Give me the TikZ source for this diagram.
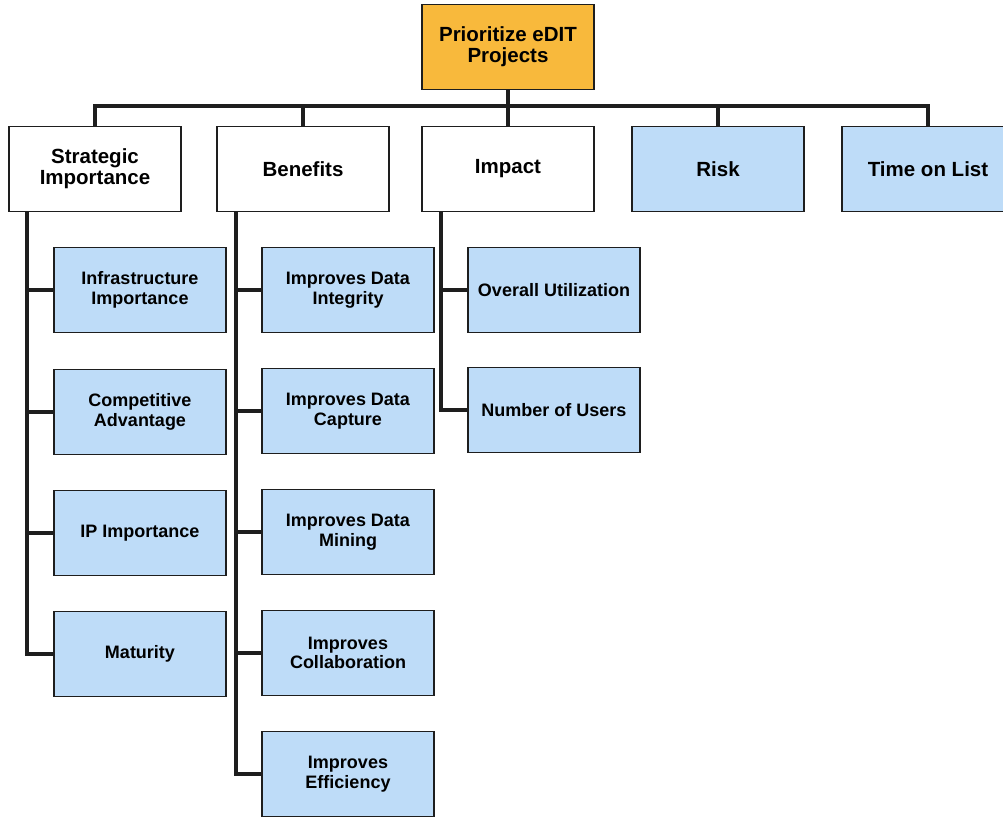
\documentclass[tikz,border=0pt]{standalone}
\usepackage{fontspec}
\setmainfont{Liberation Sans}
\usepackage{xcolor}
\usepackage{tikz}
\usetikzlibrary{calc}
\definecolor{edOrange}{HTML}{F8B93C}
\definecolor{edBlue}{HTML}{BEDCF8}
\definecolor{edLine}{HTML}{1E1E1E}

\tikzset{
  box/.style={draw=edLine, line width=1.8pt, minimum width=172pt, minimum height=85pt,
    align=center, inner sep=2pt, font=\bfseries\fontsize{20.5}{21}\selectfont},
  topbox/.style={box, fill=edOrange},
  catbox/.style={box, fill=white},
  catblue/.style={box, fill=edBlue},
  leaf/.style={box, fill=edBlue, font=\bfseries\fontsize{18}{19.5}\selectfont},
  conn/.style={draw=edLine, line width=4.5pt},
}

\begin{document}
\begin{tikzpicture}[x=1pt, y=-1pt]
                \useasboundingbox (0,0) rectangle (1003,816);
                \node[topbox] (top) at (508,47) {Prioritize eDIT\\Projects};
                
                \node[catbox] (strat) at (95,169) {Strategic\\Importance};
                \node[catbox] (benef) at (303,169) {Benefits};
                \node[catbox] (impact) at (508,169) {Impact};
                \node[catblue] (risk) at (718,169) {Risk};
                \node[catblue] (time) at (928,169) {Time on List};
                
                \node[leaf] (infra) at (140,290) {Infrastructure\\Importance};
                \node[leaf] (compet) at (140,412) {Competitive\\Advantage};
                \node[leaf] (ip) at (140,533) {IP Importance};
                \node[leaf] (matur) at (140,654) {Maturity};
                
                \node[leaf] (integ) at (348,290) {Improves Data\\Integrity};
                \node[leaf] (capt) at (348,411) {Improves Data\\Capture};
                \node[leaf] (mining) at (348,532) {Improves Data\\Mining};
                \node[leaf] (collab) at (348,653) {Improves\\Collaboration};
                \node[leaf] (effic) at (348,774) {Improves\\Efficiency};
                
                \node[leaf] (util) at (554,290) {Overall Utilization};
                \node[leaf] (users) at (554,410) {Number of Users};
                
                \coordinate (bus) at (508,106);
                \draw[conn] (top) -- (impact);
                \draw[conn] (strat.north) -- (strat.north |- bus) -- (time.north |- bus) -- (time.north);
                \foreach \n in {benef,risk} \draw[conn] (\n.north) -- (\n.north |- bus);
                
                \coordinate (sp1) at ($(strat.south west)+(19,0)$);
                \coordinate (sp2) at ($(benef.south west)+(20,0)$);
                \coordinate (sp3) at ($(impact.south west)+(20,0)$);
                \draw[conn] (sp1) |- (matur.west);
                \foreach \n in {infra,compet,ip} \draw[conn] (sp1 |- \n.west) -- (\n.west);
                \draw[conn] (sp2) |- (effic.west);
                \foreach \n in {integ,capt,mining,collab} \draw[conn] (sp2 |- \n.west) -- (\n.west);
                \draw[conn] (sp3) |- (users.west);
                \draw[conn] (sp3 |- util.west) -- (util.west);
            \end{tikzpicture}
\end{document}
